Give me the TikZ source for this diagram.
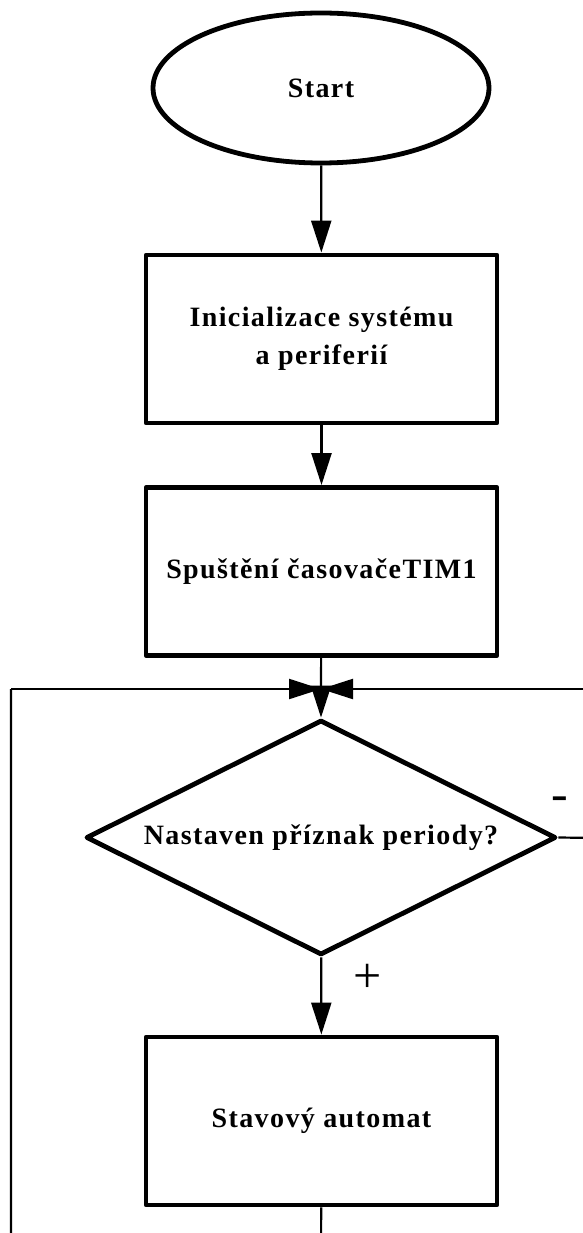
\documentclass[tikz,border=0pt]{standalone}
\usepackage{fontspec}
\setmainfont{Liberation Serif}
\usetikzlibrary{shapes.geometric,arrows.meta}

\tikzset{
  label font/.style={font=\fontsize{28}{38}\selectfont\bfseries\addfontfeature{LetterSpace=5}},
  terminal/.style={ellipse, draw, line width=4.8pt, minimum width=336pt, minimum height=150pt, inner sep=0pt, label font},
  process/.style={rectangle, draw, line width=4.8pt, line join=round, minimum width=351pt, minimum height=168pt, inner sep=0pt, align=center, label font},
  decision/.style={diamond, draw, line width=4.8pt, line join=round, minimum width=470pt, minimum height=235pt, inner sep=0pt},
  flow/.style={line width=2.2pt},
  flowarrow/.style={line width=2.2pt, -{Triangle[length=32pt, width=20pt]}},
  branch/.style={font=\fontsize{50}{50}\selectfont}
}

\begin{document}
\begin{tikzpicture}[x=1pt, y=-1pt]
  \useasboundingbox (0,0) rectangle (582,1233);

  % flowchart blocks
  \node[terminal] (start) at (321,88) {Start};
  \node[process] (init) at (321.5,339) {Inicializace systému\\a periferií};
  \node[process] (tim) at (321.5,571.5) {Spuštění časovačeTIM1};
  \node[decision, label={[label font]center:Nastaven příznak periody?}] (flag) at (321,837.5) {};
  \node[process] (fsm) at (321.5,1121) {Stavový automat};

  % joining point above the decision and loop corners
  \coordinate (join) at (321,689);
  \coordinate (bl) at (321,1260);
  \coordinate (lb) at (11,1260);
  \coordinate (lt) at (11,689);
  \coordinate (rr) at (600,838);
  \coordinate (rt) at (600,689);

  % main flow
  \draw[flowarrow] (start) -- (init);
  \draw[flowarrow] (init) -- (tim);
  \draw[flow] (tim) -- (join);
  \draw[flowarrow] (join) -- (flag);
  \draw[flowarrow] (flag) -- (fsm);

  % loop back from the state machine
  \draw[flow] (fsm) -- (bl) -- (lb) -- (lt);
  \draw[flowarrow] (lt) -- (join);

  % loop back when the flag is not set
  \draw[flow] (flag.east) -- (rr) -- (rt);
  \draw[flowarrow] (rt) -- (join);

  % branch labels
  \node[branch] (plus) at (368,978) {+};
  \node[branch] (minus) at (560,804) {-};
\end{tikzpicture}
\end{document}
